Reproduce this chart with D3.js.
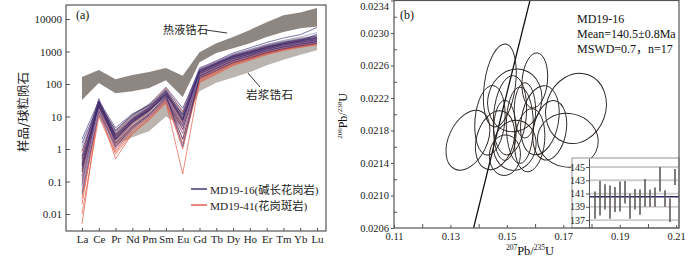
<!DOCTYPE html>
<html>
<head>
<meta charset="utf-8">
<script src="https://cdn.jsdelivr.net/npm/d3@7"></script>
<style>
  body { margin: 0; background: #fff; }
  svg { display: block; }
</style>
</head>
<body>
<div id="chart"></div>
<script>
// ---------- panel (a): REE patterns ----------
const REE = ["La","Ce","Pr","Nd","Pm","Sm","Eu","Gd","Tb","Dy","Ho","Er","Tm","Yb","Lu"];

// grey fields (chondrite-normalised)
const hydroHigh = [165, 270, 140, 190, 235, 310, 180, 950, 1800, 2800, 4600, 8000, 13000, 16000, 22000];
const hydroLow  = [32, 107, 52, 60, 75, 130, 40, 470, 900, 1250, 1800, 2800, 4000, 5200, 5900];
const magHigh   = [0.5, 30, 4, 12, 25, 70, 15, 300, 500, 850, 1200, 1700, 2200, 2700, 3200];
const magLow    = [0.1, 10, 1.3, 2.3, 3.5, 10, 5, 60, 110, 160, 230, 380, 560, 800, 1100];

// MD19-16 (alkali-feldspar granite)
const md1916 = [
  [2.0, 30, 4.5, 12, 22, 45, 12, 300, 520, 900, 1300, 1900, 2600, 3300, 5500],
  [1.2, 25, 3.5, 10, 20, 55, 10, 280, 480, 800, 1150, 1650, 2200, 2800, 3800],
  [0.6, 35, 2.5, 8, 18, 60, 8, 260, 450, 750, 1050, 1500, 1950, 2400, 3000],
  [0.3, 20, 2.0, 7, 15, 50, 7, 240, 420, 700, 950, 1350, 1750, 2150, 2600],
  [0.15, 18, 1.8, 6, 14, 45, 6, 220, 380, 640, 880, 1250, 1650, 2000, 2400],
  [0.08, 28, 1.5, 5, 12, 40, 5, 200, 350, 600, 820, 1150, 1500, 1850, 2200],
  [0.04, 15, 1.2, 4.5, 11, 35, 4, 180, 320, 540, 760, 1080, 1400, 1700, 2000],
  [0.5, 32, 3.0, 9, 20, 70, 15, 320, 500, 820, 1100, 1550, 2000, 2400, 2800],
  [0.9, 22, 2.8, 8.5, 19, 65, 11, 240, 400, 660, 900, 1280, 1700, 2100, 2500],
  [0.25, 26, 2.2, 7.5, 17, 55, 9, 210, 360, 600, 840, 1200, 1600, 1950, 2300],
  [0.12, 12, 1.0, 4, 10, 30, 3, 160, 280, 480, 680, 980, 1300, 1600, 1900],
  [0.35, 30, 2.6, 8, 16, 42, 2, 150, 260, 450, 640, 920, 1220, 1500, 1800],
  [1.5, 24, 3.8, 11, 23, 80, 18, 260, 430, 720, 980, 1400, 1850, 2300, 2700],
  [0.07, 16, 1.3, 5, 12, 38, 5, 190, 330, 560, 780, 1100, 1450, 1780, 2150],
  [0.5, 20, 1.9, 6.5, 15, 48, 1.2, 170, 300, 520, 740, 1050, 1380, 1700, 2050],
  [0.2, 28, 2.1, 7, 16, 52, 8, 230, 400, 680, 930, 1320, 1720, 2100, 3400]
];

// MD19-41 (granite porphyry)
const md1941 = [
  [0.005, 18, 0.5, 3, 8, 28, 0.17, 120, 220, 400, 580, 850, 1150, 1400, 1700],
  [0.02, 22, 0.9, 4, 10, 32, 1.0, 140, 250, 440, 620, 900, 1200, 1480, 1800],
  [0.05, 25, 1.1, 4.5, 11, 36, 3, 160, 280, 480, 680, 980, 1300, 1600, 2000],
  [0.1, 30, 1.6, 6, 14, 45, 6, 200, 340, 580, 800, 1150, 1500, 1850, 2300],
  [0.3, 20, 2.0, 6.5, 15, 50, 8, 180, 310, 520, 720, 1020, 1350, 1650, 2000],
  [0.6, 28, 2.5, 8, 18, 58, 10, 220, 380, 640, 880, 1250, 1650, 2000, 2500],
  [0.2, 15, 1.4, 5, 12, 40, 4, 150, 260, 460, 650, 940, 1250, 1550, 1900],
  [0.03, 12, 0.8, 3.5, 9, 30, 2, 130, 230, 410, 600, 870, 1160, 1450, 1750],
  [0.8, 33, 3.2, 9.5, 20, 75, 14, 280, 460, 760, 1020, 1450, 1900, 2300, 2700],
  [0.15, 20, 1.2, 5, 12, 38, 5, 170, 290, 500, 700, 1000, 1330, 1620, 1950],
  [0.4, 26, 2.3, 7, 16, 48, 7, 210, 360, 600, 830, 1180, 1550, 1900, 2300],
  [0.01, 10, 0.7, 3, 8, 26, 1.5, 110, 200, 370, 540, 800, 1080, 1350, 1600]
];

const yTicksA = [10000, 1000, 100, 10, 1, 0.1, 0.01];
const yLabelsA = ["10000", "1000", "100", "10", "1", "0.1", "0.01"];

// ---------- panel (b): concordia ----------
const ellX   = [0.1475, 0.1599, 0.1528, 0.1745, 0.1362, 0.1716, 0.1511, 0.1546, 0.1493, 0.1617, 0.1458, 0.1581, 0.1528, 0.1440, 0.1652, 0.1564, 0.1493];
const ellY   = [0.022355, 0.022416, 0.022171, 0.022072, 0.02168, 0.02168, 0.021987, 0.021864, 0.021802, 0.021926, 0.02168, 0.02168, 0.021618, 0.021925, 0.021802, 0.022048, 0.021496];
const ellSX  = [0.0055, 0.0045, 0.0095, 0.0105, 0.0068, 0.0108, 0.0058, 0.0048, 0.0040, 0.0066, 0.0066, 0.0053, 0.0075, 0.0053, 0.0058, 0.0038, 0.0055];
const ellSY  = [0.000515, 0.00034, 0.00039, 0.00044, 0.00039, 0.00033, 0.00049, 0.00047, 0.00037, 0.00043, 0.00037, 0.00039, 0.00031, 0.00043, 0.00037, 0.00034, 0.00025];
const ellRot = [8, 5, 15, 20, 25, 10, 5, 0, 0, 10, 15, 5, 10, 5, 10, 0, 5];

const xTicksB = [0.11, 0.13, 0.15, 0.17, 0.19, 0.21];
const yTicksB = [0.0206, 0.0210, 0.0214, 0.0218, 0.0222, 0.0226, 0.0230, 0.0234];
const concordiaAges = d3.range(120, 160.5, 0.5);

// inset: weighted mean ages
const insetAge = [139.25, 140.3, 140.5, 139.7, 140.1, 140.55, 141.2, 139.1, 140.15, 139.7, 141.1, 140.3, 140.45, 143.15, 140.25, 138.5, 143.5];
const insetErr = [2.05, 2.6, 1.9, 2.5, 1.9, 2.25, 1.7, 1.9, 1.55, 1.9, 2.1, 1.3, 1.45, 1.85, 1.25, 1.8, 1.2];
const insetTicks = [145, 143, 141, 139, 137];
const meanAge = 140.5;

const SERIF = "'Liberation Serif', 'Times New Roman', 'Noto Sans CJK SC', serif";
const CJK = "'Noto Sans CJK SC', sans-serif";
const FRAME = "#555";

const svg = d3.select("#chart").append("svg")
  .attr("width", 700).attr("height", 258)
  .style("font-family", SERIF);

// ===================== panel (a) =====================
const A = { l: 66, r: 326, t: 5, b: 231 };
const xA = d3.scalePoint().domain(REE).range([82, 317]);
const yA = d3.scaleLog().domain([0.003, 27000]).range([A.b, A.t]);

svg.append("clipPath").attr("id", "clipA")
  .append("rect").attr("x", A.l).attr("y", A.t).attr("width", A.r - A.l).attr("height", A.b - A.t);
const gA = svg.append("g").attr("clip-path", "url(#clipA)");

const band = (hi, lo) => d3.area()
  .x((d, i) => xA(REE[i]))
  .y0((d, i) => yA(lo[i]))
  .y1((d, i) => yA(hi[i]))(REE);

gA.append("path").attr("d", band(hydroHigh, hydroLow)).attr("fill", "#8e8680");
gA.append("path").attr("d", band(magHigh, magLow)).attr("fill", "#bbb4af");

const lineA = d3.line().x((d, i) => xA(REE[i])).y(d => yA(d));

gA.selectAll(".r41").data(md1941).join("path")
  .attr("d", lineA).attr("fill", "none")
  .attr("stroke", "#e2553f").attr("stroke-width", 0.8).attr("stroke-opacity", 0.85);

gA.selectAll(".p16").data(md1916).join("path")
  .attr("d", lineA).attr("fill", "none")
  .attr("stroke", (d, i) => i % 3 === 1 ? "#8a80bd" : "#35296f")
  .attr("stroke-width", 0.8).attr("stroke-opacity", 0.8);

// frame
svg.append("rect").attr("x", A.l).attr("y", A.t).attr("width", A.r - A.l).attr("height", A.b - A.t)
  .attr("fill", "none").attr("stroke", FRAME).attr("stroke-width", 1.2);

// y axis
svg.append("g").attr("transform", `translate(${A.l},0)`)
  .call(d3.axisLeft(yA).tickValues(yTicksA).tickFormat((d, i) => yLabelsA[i]).tickSizeInner(-4).tickSizeOuter(0).tickPadding(4))
  .call(g => g.select(".domain").remove())
  .call(g => g.selectAll(".tick line").attr("stroke", FRAME))
  .call(g => g.selectAll("text").attr("font-size", 11).attr("fill", "#222").attr("font-family", SERIF));

// x axis
svg.append("g").attr("transform", `translate(0,${A.b})`)
  .call(d3.axisBottom(xA).tickSizeInner(-3).tickSizeOuter(0).tickPadding(4))
  .call(g => g.select(".domain").remove())
  .call(g => g.selectAll(".tick line").attr("stroke", FRAME))
  .call(g => g.selectAll("text").attr("font-size", 11).attr("fill", "#222").attr("font-family", SERIF));

svg.append("text").attr("transform", "translate(28,112) rotate(-90)")
  .attr("text-anchor", "middle").attr("font-family", CJK).attr("font-size", 12.5).attr("fill", "#222")
  .text("样品/球粒陨石");

svg.append("text").attr("x", 76).attr("y", 19).attr("font-size", 12).attr("fill", "#111").text("(a)");

// annotations
svg.append("text").attr("x", 163).attr("y", 34).attr("font-family", CJK).attr("font-size", 11)
  .attr("letter-spacing", 0.3).attr("fill", "#222").text("热液锆石");
svg.append("line").attr("x1", 206).attr("y1", 30).attr("x2", 227).attr("y2", 33).attr("stroke", "#222").attr("stroke-width", 0.9);
svg.append("text").attr("x", 246).attr("y", 99).attr("font-family", CJK).attr("font-size", 11.5)
  .attr("letter-spacing", 0.3).attr("fill", "#222").text("岩浆锆石");
svg.append("line").attr("x1", 248).attr("y1", 73).attr("x2", 260).attr("y2", 87).attr("stroke", "#222").attr("stroke-width", 0.9);

// legend
const legend = [
  { label: "MD19-16(碱长花岗岩)", color: "#35296f", y: 189 },
  { label: "MD19-41(花岗斑岩)", color: "#e2553f", y: 205 }
];
const lg = svg.append("g");
lg.selectAll("line").data(legend).join("line")
  .attr("x1", 191).attr("x2", 207).attr("y1", d => d.y).attr("y2", d => d.y)
  .attr("stroke", d => d.color).attr("stroke-width", 1.4);
lg.selectAll("text").data(legend).join("text")
  .attr("x", 210).attr("y", d => d.y + 4.5).attr("font-size", 11.3).attr("fill", "#222")
  .text(d => d.label);

// ===================== panel (b) =====================
const B = { l: 394, r: 679, t: 0.5, b: 228 };
const xB = d3.scaleLinear().domain([0.11, 0.211]).range([B.l, B.r]);
const yB = d3.scaleLinear().domain([0.0206, 0.0234]).range([B.b, B.t]);

svg.append("clipPath").attr("id", "clipB")
  .append("rect").attr("x", B.l).attr("y", B.t).attr("width", B.r - B.l).attr("height", B.b - B.t);
const gB = svg.append("g").attr("clip-path", "url(#clipB)");

// concordia curve from decay constants
const L238 = 1.55125e-10, L235 = 9.8485e-10;
gB.append("path")
  .attr("d", d3.line()
    .x(t => xB(Math.exp(L235 * t * 1e6) - 1))
    .y(t => yB(Math.exp(L238 * t * 1e6) - 1))(concordiaAges))
  .attr("fill", "none").attr("stroke", "#111").attr("stroke-width", 1.3);

// error ellipses
gB.selectAll("ellipse").data(ellX).join("ellipse")
  .attr("transform", (d, i) => `translate(${xB(d)},${yB(ellY[i])}) rotate(${ellRot[i]})`)
  .attr("rx", (d, i) => xB(d + ellSX[i]) - xB(d))
  .attr("ry", (d, i) => yB(ellY[i]) - yB(ellY[i] + ellSY[i]))
  .attr("fill", "none").attr("stroke", "#2a2522").attr("stroke-width", 0.95);

// text block
svg.append("text").attr("x", 400).attr("y", 19).attr("font-size", 12).attr("fill", "#111").text("(b)");
svg.append("text").attr("x", 577).attr("y", 23).attr("font-size", 12).attr("fill", "#111").text("MD19-16");
svg.append("text").attr("x", 577).attr("y", 38).attr("font-size", 12).attr("fill", "#111").text("Mean=140.5±0.8Ma");
svg.append("text").attr("x", 577).attr("y", 53).attr("font-size", 12).attr("fill", "#111").text("MSWD=0.7，n=17");

// inset
const I = { l: 572, axis: 589, r: 679, t: 158, b: 228 };
const xI = d3.scaleLinear().domain([0, insetAge.length - 1]).range([595, 675]);
const yI = d3.scaleLinear().domain([135.8, 146.36]).range([I.b, I.t]);

svg.append("rect").attr("x", I.l).attr("y", I.t).attr("width", I.r - I.l).attr("height", I.b - I.t)
  .attr("fill", "#fff").attr("stroke", "#777").attr("stroke-width", 0.8);
const gI = svg.append("g");
gI.selectAll(".grid").data(insetTicks).join("line")
  .attr("x1", I.axis).attr("x2", I.r).attr("y1", d => yI(d)).attr("y2", d => yI(d))
  .attr("stroke", "#cdcdcd").attr("stroke-width", 1.8);
gI.append("line").attr("x1", I.axis).attr("x2", I.r).attr("y1", yI(meanAge)).attr("y2", yI(meanAge))
  .attr("stroke", "#2d2b6e").attr("stroke-width", 1.5);
gI.selectAll(".bar").data(insetAge).join("line")
  .attr("x1", (d, i) => xI(i)).attr("x2", (d, i) => xI(i))
  .attr("y1", (d, i) => yI(d + insetErr[i])).attr("y2", (d, i) => yI(d - insetErr[i]))
  .attr("stroke", "#5e5a58").attr("stroke-width", 1.6);
gI.append("g").attr("transform", `translate(${I.axis},0)`)
  .call(d3.axisLeft(yI).tickValues(insetTicks).tickSizeInner(3).tickSizeOuter(0).tickPadding(1))
  .call(g => g.select(".domain").attr("stroke", "#555"))
  .call(g => g.selectAll(".tick line").attr("stroke", "#555"))
  .call(g => g.selectAll("text").attr("font-size", 10).attr("fill", "#222").attr("font-family", SERIF));

// frame
svg.append("rect").attr("x", B.l).attr("y", B.t).attr("width", B.r - B.l).attr("height", B.b - B.t)
  .attr("fill", "none").attr("stroke", FRAME).attr("stroke-width", 1.2);

// y axis (b)
svg.append("g").attr("transform", `translate(${B.l},0)`)
  .call(d3.axisLeft(yB).tickValues(yTicksB).tickFormat(d3.format(".4f")).tickSizeInner(3).tickSizeOuter(0).tickPadding(2))
  .call(g => g.select(".domain").remove())
  .call(g => g.selectAll(".tick line").attr("stroke", FRAME))
  .call(g => g.selectAll("text").attr("font-size", 10.5).attr("fill", "#222").attr("font-family", SERIF)
    .attr("dy", d => d === 0.0234 ? "0.9em" : "0.32em"));
// minor y ticks
svg.append("g").attr("transform", `translate(${B.l},0)`)
  .call(d3.axisLeft(yB).tickValues(yTicksB.slice(0, -1).map(v => v + 0.0002)).tickFormat("").tickSizeInner(-3).tickSizeOuter(0))
  .call(g => g.select(".domain").remove())
  .call(g => g.selectAll(".tick line").attr("stroke", FRAME));

// x axis (b)
svg.append("g").attr("transform", `translate(0,${B.b})`)
  .call(d3.axisBottom(xB).tickValues(xTicksB).tickFormat(d3.format(".2f")).tickSizeInner(-3).tickSizeOuter(0).tickPadding(5))
  .call(g => g.select(".domain").remove())
  .call(g => g.selectAll(".tick line").attr("stroke", FRAME))
  .call(g => g.selectAll("text").attr("font-size", 10.5).attr("fill", "#222").attr("font-family", SERIF));
svg.append("g").attr("transform", `translate(0,${B.b})`)
  .call(d3.axisBottom(xB).tickValues(xTicksB.map(v => v + 0.01).filter(v => v < 0.211)).tickFormat("").tickSizeInner(-4).tickSizeOuter(0))
  .call(g => g.select(".domain").remove())
  .call(g => g.selectAll(".tick line").attr("stroke", FRAME));

// axis titles (b)
const xt = svg.append("text").attr("x", 530).attr("y", 255).attr("text-anchor", "middle")
  .attr("font-size", 12.5).attr("fill", "#111");
xt.append("tspan").attr("font-size", 7.5).attr("dy", -5).text("207");
xt.append("tspan").attr("dy", 5).text("Pb/");
xt.append("tspan").attr("font-size", 7.5).attr("dy", -5).text("235");
xt.append("tspan").attr("dy", 5).text("U");

const yt = svg.append("text").attr("transform", "translate(347,116) rotate(-90)").attr("text-anchor", "middle")
  .attr("font-size", 12).attr("fill", "#111");
yt.append("tspan").attr("font-size", 7).attr("dy", -5).text("206");
yt.append("tspan").attr("dy", 5).text("Pb/");
yt.append("tspan").attr("font-size", 7).attr("dy", -5).text("238");
yt.append("tspan").attr("dy", 5).text("U");
</script>
</body>
</html>
